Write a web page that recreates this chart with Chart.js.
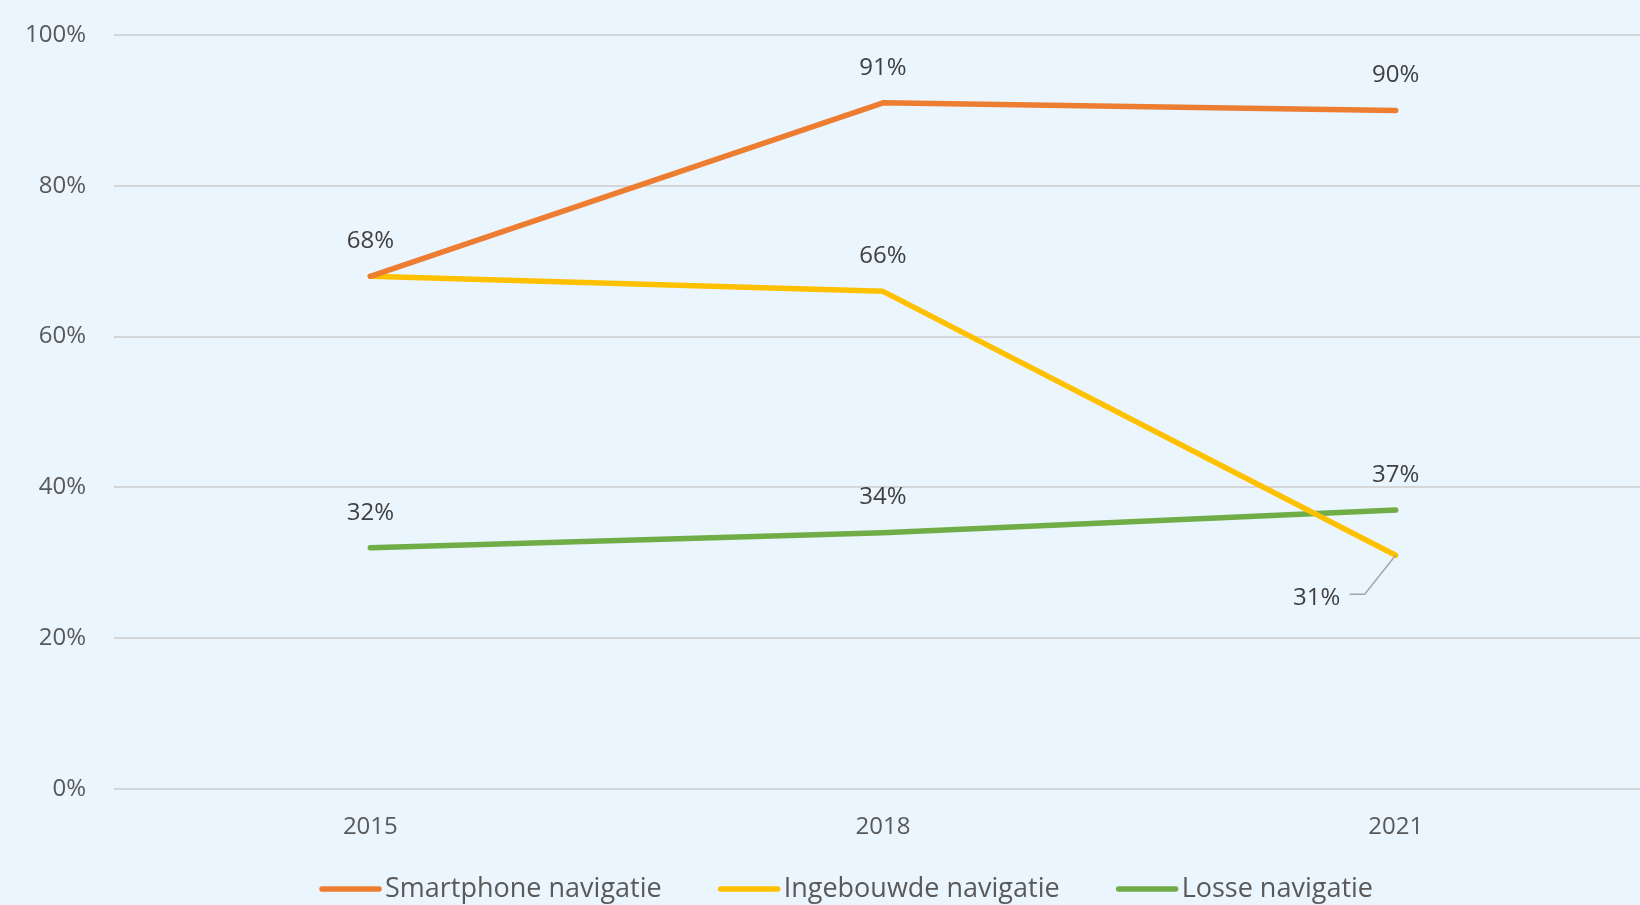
<!DOCTYPE html>
<html>
<head>
<meta charset="utf-8">
<script src="https://cdn.jsdelivr.net/npm/chart.js@4.4.1/dist/chart.umd.min.js"></script>
<style>
  html, body { margin: 0; padding: 0; background: #EAF5FD; overflow: hidden; }
  #wrap { position: relative; width: 1682px; height: 905px; }
</style>
</head>
<body>
<div id="wrap"><canvas id="c"></canvas></div>
<script>
// ---- data ----
const years = ['2015', '2018', '2021'];
const smartphone = [68, 91, 90];
const ingebouwd = [68, 66, 31];
const losse = [32, 34, 37];
const seriesNames = ['Smartphone navigatie', 'Ingebouwde navigatie', 'Losse navigatie'];
const yTicks = [0, 20, 40, 60, 80, 100];

const colors = ['#ED7D31', '#FFC000', '#70AD47'];
const FONT = '"Open Sans", "DejaVu Sans", sans-serif';

// labels: which points to hide (duplicate 68%) and which use a leader line below-left
const hiddenLabels = [[1, 0]];
const leaderLabels = [[1, 2]];

const labelPlugin = {
  id: 'pointLabels',
  afterDatasetsDraw(chart) {
    const ctx = chart.ctx;
    ctx.save();
    ctx.font = '24px ' + FONT;
    ctx.fillStyle = '#404040';
    ctx.textAlign = 'center';
    ctx.textBaseline = 'middle';
    chart.data.datasets.forEach((ds, di) => {
      const meta = chart.getDatasetMeta(di);
      meta.data.forEach((pt, i) => {
        if (hiddenLabels.some(h => h[0] === di && h[1] === i)) return;
        const txt = ds.data[i] + '%';
        if (leaderLabels.some(h => h[0] === di && h[1] === i)) {
          ctx.strokeStyle = '#A6A6A6';
          ctx.lineWidth = 1.5;
          ctx.beginPath();
          ctx.moveTo(pt.x, pt.y);
          ctx.lineTo(pt.x - 31, pt.y + 39);
          ctx.lineTo(pt.x - 46, pt.y + 39);
          ctx.stroke();
          ctx.fillText(txt, pt.x - 79, pt.y + 43);
        } else {
          ctx.fillText(txt, pt.x, pt.y - 35);
        }
      });
    });
    ctx.restore();
  }
};

const legendPlugin = {
  id: 'customLegend',
  afterDraw(chart) {
    const ctx = chart.ctx;
    ctx.save();
    ctx.font = '27px ' + FONT;
    ctx.textBaseline = 'middle';
    ctx.textAlign = 'left';
    let x = 320;
    const y = 889;
    chart.data.datasets.forEach((ds, di) => {
      ctx.strokeStyle = ds.borderColor;
      ctx.lineWidth = 5.5;
      ctx.lineCap = 'round';
      ctx.beginPath();
      ctx.moveTo(x + 2, y);
      ctx.lineTo(x + 59, y);
      ctx.stroke();
      ctx.fillStyle = '#595959';
      ctx.fillText(ds.label, x + 65, y);
      x += 65 + ctx.measureText(ds.label).width + 57;
    });
    ctx.restore();
  }
};

const chart = new Chart(document.getElementById('c'), {
  type: 'line',
  data: {
    labels: years,
    datasets: [
      { label: seriesNames[0], data: smartphone, borderColor: colors[0], backgroundColor: colors[0] },
      { label: seriesNames[1], data: ingebouwd, borderColor: colors[1], backgroundColor: colors[1] },
      { label: seriesNames[2], data: losse, borderColor: colors[2], backgroundColor: colors[2] }
    ].map(d => Object.assign(d, { borderWidth: 5.5, pointRadius: 0, tension: 0, fill: false, borderCapStyle: 'round', borderJoinStyle: 'round' }))
  },
  options: {
    responsive: true,
    maintainAspectRatio: false,
    animation: false,
    layout: { padding: { top: 35, left: 0, right: 30, bottom: 0 } },
    plugins: { legend: { display: false }, tooltip: { enabled: false } },
    scales: {
      x: {
        offset: true,
        grid: { display: false, drawTicks: false },
        border: { display: false },
        ticks: { color: '#595959', font: { size: 24, family: FONT }, padding: 24, maxRotation: 0 },
        afterFit(s) { s.height = 116; s.paddingLeft = 0; s.paddingRight = 0; }
      },
      y: {
        min: 0, max: 100,
        afterBuildTicks(s) { s.ticks = yTicks.map(v => ({ value: v })); },
        grid: { color: '#D4D6D8', lineWidth: 2, drawTicks: false },
        border: { display: false },
        ticks: { color: '#595959', font: { size: 24, family: FONT }, padding: 28, callback: v => v + '%' },
        afterFit(s) { s.width = 114; s.paddingTop = 0; s.paddingBottom = 0; }
      }
    }
  },
  plugins: [labelPlugin, legendPlugin]
});
</script>
</body>
</html>
